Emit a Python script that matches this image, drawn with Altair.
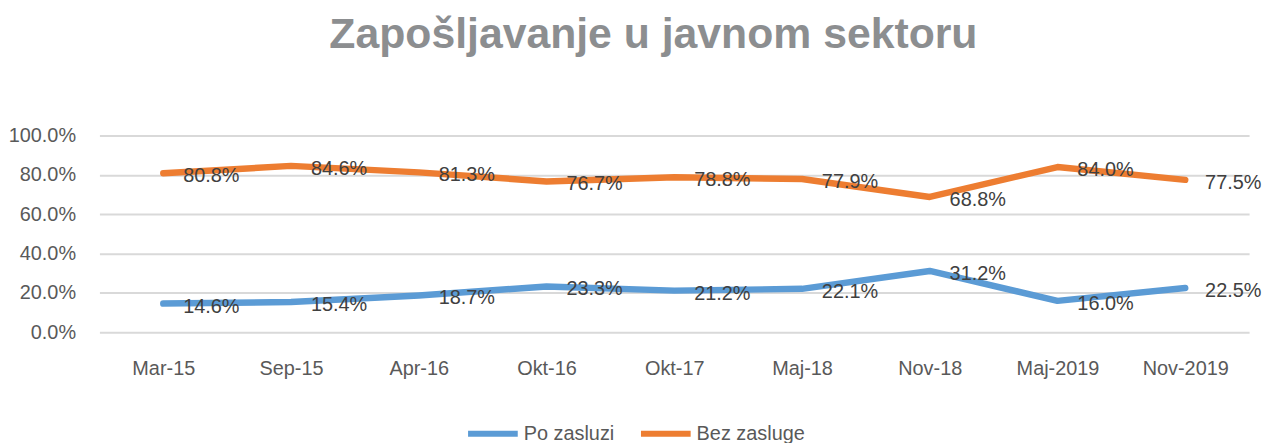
import altair as alt
import pandas as pd

categories = ["Mar-15", "Sep-15", "Apr-16", "Okt-16", "Okt-17", "Maj-18", "Nov-18", "Maj-2019", "Nov-2019"]
po_zasluzi = [0.146, 0.154, 0.187, 0.233, 0.212, 0.221, 0.312, 0.160, 0.225]
bez_zasluge = [0.808, 0.846, 0.813, 0.767, 0.788, 0.779, 0.688, 0.840, 0.775]
series_names = ["Po zasluzi", "Bez zasluge"]
series_colors = ["#5B9BD5", "#ED7D31"]
y_ticks = [0, 0.2, 0.4, 0.6, 0.8, 1.0]

rows = []
for name, vals in zip(series_names, [po_zasluzi, bez_zasluge]):
    for c, v in zip(categories, vals):
        rows.append({"Period": c, "Serija": name, "Vrijednost": v})
df = pd.DataFrame(rows)

FONT = "Liberation Sans, Arial, sans-serif"

x = alt.X("Period:N", sort=categories, title=None,
          scale=alt.Scale(padding=0.5),
          axis=alt.Axis(labelAngle=0, ticks=False, domain=False, grid=False,
                        labelPadding=26, labelFontSize=20, labelColor="#595959",
                        labelFont=FONT, labelOverlap=False))
y = alt.Y("Vrijednost:Q", title=None,
          scale=alt.Scale(domain=[0, 1]),
          axis=alt.Axis(values=y_ticks, format=".1%",
                        ticks=False, domain=False, gridColor="#D9D9D9", gridWidth=2,
                        labelPadding=24, labelFontSize=20, labelColor="#595959",
                        labelFont=FONT, labelOverlap=False))
color = alt.Color("Serija:N", sort=series_names,
                  scale=alt.Scale(domain=series_names, range=series_colors),
                  legend=alt.Legend(title=None, orient="none", direction="horizontal",
                                    legendX=368, legendY=272,
                                    symbolType="stroke", symbolStrokeWidth=6,
                                    symbolSize=2500, labelFontSize=20,
                                    labelColor="#595959", labelFont=FONT,
                                    labelOffset=3, columnPadding=14))

lines = alt.Chart(df).mark_line(strokeWidth=6.5, strokeCap="round", strokeJoin="round").encode(
    x=x, y=y, color=color)

labels = alt.Chart(df).mark_text(align="left", baseline="middle", dx=20, dy=3,
                                 fontSize=20, color="#404040", font=FONT).encode(
    x=x, y=y,
    text=alt.Text("Vrijednost:Q", format=".1%"))

chart = alt.layer(lines, labels).properties(
    width=1157, height=198,
    title=alt.Title("Zapošljavanje u javnom sektoru", fontSize=43, fontWeight="bold",
                    color="#8C8E90", font=FONT, anchor="middle", offset=69, dx=-21),
    autosize=alt.AutoSizeParams(type="none"),
    padding={"left": 92, "top": 127, "right": 14, "bottom": 110},
).configure_view(stroke=None)

chart.save("out.html", embed_options={"renderer": "svg", "actions": False})
